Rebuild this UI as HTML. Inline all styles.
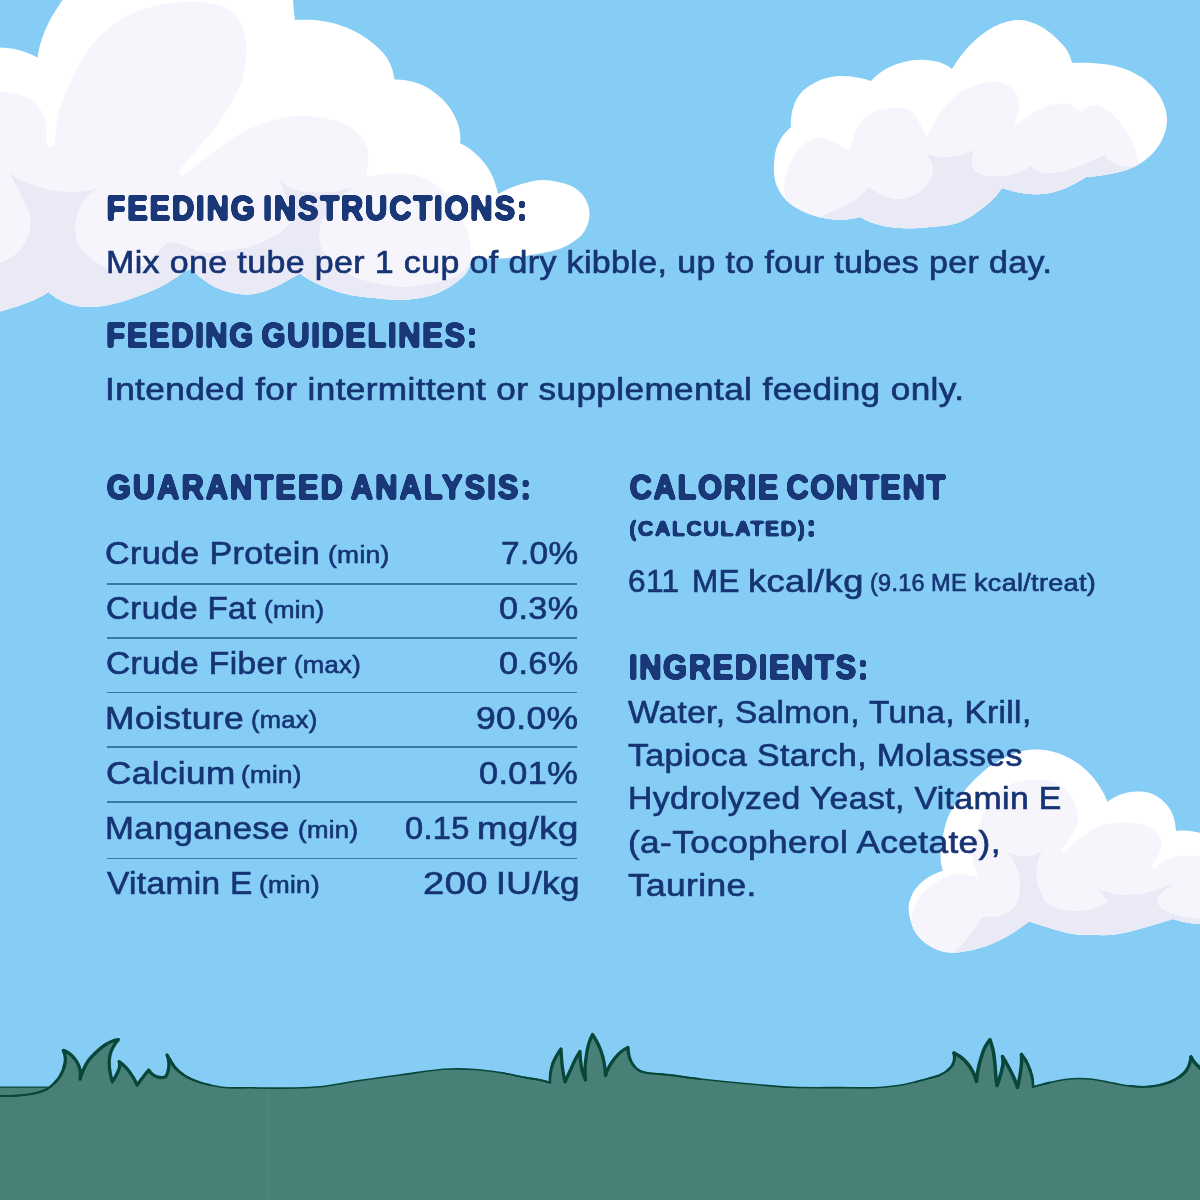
<!DOCTYPE html>
<html lang="en">
<head>
<meta charset="utf-8">
<title>Feeding Instructions &amp; Guaranteed Analysis</title>
<style>
html,body{margin:0;padding:0}
body{width:1200px;height:1200px;overflow:hidden;background:#85CDF4;font-family:"Liberation Sans",Arial,Helvetica,sans-serif}
#page{position:relative;width:1200px;height:1200px;overflow:hidden;background:#85CDF4}
.art{position:absolute;left:0;top:0;width:1200px;height:1200px;display:block}
.t{position:absolute;margin:0;padding:0;white-space:nowrap;line-height:1;transform-origin:0 0;font-weight:400}
.g{margin:0;padding:0}
.hw{width:1200px;height:1200px;pointer-events:none}
.hs{position:absolute;left:0;top:0;overflow:visible}
.ht{font-family:"Liberation Sans",Arial,Helvetica,sans-serif;font-weight:700;fill:#1A3878;stroke:#1A3878;stroke-linejoin:round;stroke-linecap:round;paint-order:stroke fill}
.b,.s{color:#163474;-webkit-text-stroke:0.65px #163474}
.rule{position:absolute;left:107px;width:470px;height:1.5px;background:#3579A8}

</style>
</head>
<body>
<div id="page">
<svg class="art" width="1200" height="1200" viewBox="0 0 1200 1200" aria-hidden="true">
<defs>
<clipPath id="cl1"><path d="M-20.00 46.00 C-13.33 46.41 -6.66 46.91 0.00 47.50 C5.01 47.95 10.08 47.96 15.00 49.00 C20.16 50.09 25.14 51.96 30.00 54.00 C32.54 55.07 35.05 56.24 37.50 57.50 L37.50 57.50 C38.08 53.29 38.92 49.11 40.00 45.00 C41.81 38.12 44.50 31.46 47.50 25.00 C51.60 16.19 57.22 8.16 62.50 0.00 C68.03 -8.54 73.87 -16.88 80.00 -25.00 L80.00 -25.00 L293.00 -25.00 L293.00 -25.00 C292.54 -16.68 292.54 -8.32 293.00 0.00 C293.37 6.69 294.04 13.37 295.00 20.00 L295.00 20.00 C299.32 19.67 303.67 19.57 308.00 19.70 C316.40 19.95 324.86 20.91 333.00 23.00 C341.69 25.24 350.18 28.60 358.00 33.00 C364.04 36.40 369.82 40.38 375.00 45.00 C379.40 48.93 383.86 53.01 387.00 58.00 C389.71 62.30 391.66 67.10 393.00 72.00 C393.67 74.46 394.17 76.97 394.50 79.50 L394.50 79.50 C402.09 79.31 409.83 80.51 417.00 83.00 C425.48 85.94 433.38 90.94 440.00 97.00 C445.07 101.64 449.63 107.01 453.00 113.00 C456.46 119.16 459.24 125.98 460.00 133.00 C460.36 136.31 460.36 139.69 460.00 143.00 L460.00 143.00 C462.41 144.19 464.75 145.53 467.00 147.00 C470.57 149.34 473.90 152.07 477.00 155.00 C481.12 158.90 484.95 163.21 488.00 168.00 C490.97 172.65 493.18 177.79 495.00 183.00 C496.25 186.59 497.26 190.27 498.00 194.00 L498.00 194.00 C501.25 192.18 504.59 190.51 508.00 189.00 C513.50 186.57 519.19 184.52 525.00 183.00 C530.57 181.55 536.25 180.12 542.00 180.00 C547.37 179.89 552.76 180.80 558.00 182.00 C563.86 183.35 570.03 184.62 575.00 188.00 C579.49 191.05 583.50 195.18 586.00 200.00 C588.36 204.56 589.61 209.87 589.50 215.00 C589.37 220.95 587.26 227.02 584.00 232.00 C580.24 237.75 573.92 241.51 568.00 245.00 C557.86 250.97 545.55 252.24 534.00 254.50 C522.80 256.70 511.40 258.01 500.00 258.50 C490.67 258.90 481.31 258.73 472.00 258.00 L472.00 258.00 C471.34 262.54 469.79 267.03 467.50 271.00 C463.79 277.44 457.18 281.87 451.00 286.00 C445.73 289.52 439.97 292.37 434.00 294.50 C428.52 296.45 422.75 297.58 417.00 298.50 C411.38 299.40 405.69 299.89 400.00 300.00 C391.64 300.17 383.32 298.83 375.00 298.00 C366.65 297.17 358.21 296.75 350.00 295.00 C342.16 293.33 334.45 290.95 327.00 288.00 C321.18 285.70 315.42 283.13 310.00 280.00 C306.56 278.01 303.21 275.84 300.00 273.50 L300.00 273.50 C296.68 275.35 293.34 277.18 290.00 279.00 C285.02 281.71 280.18 284.71 275.00 287.00 C269.51 289.43 263.88 291.75 258.00 293.00 C253.73 293.91 249.36 294.54 245.00 294.50 C240.97 294.46 236.95 293.80 233.00 293.00 C227.52 291.89 222.09 290.31 217.00 288.00 C210.85 285.21 205.29 281.19 200.00 277.00 C196.85 274.51 193.84 271.83 191.00 269.00 L191.00 269.00 C189.30 269.56 187.62 270.23 186.00 271.00 C182.41 272.70 179.37 275.39 176.00 277.50 C170.75 280.80 165.52 284.17 160.00 287.00 C153.55 290.31 146.78 292.94 140.00 295.50 C132.46 298.35 124.83 301.08 117.00 303.00 C109.77 304.77 102.43 306.45 95.00 306.80 C88.33 307.11 81.52 306.97 75.00 305.50 C69.08 304.16 63.24 302.06 58.00 299.00 C54.60 297.01 51.40 294.66 48.50 292.00 L48.50 292.00 C45.11 294.19 41.60 296.19 38.00 298.00 C33.79 300.11 29.39 301.80 25.00 303.50 C16.84 306.65 8.46 309.25 0.00 311.50 C-6.60 313.26 -13.28 314.76 -20.00 316.00 L-20.00 316.00 L-20.00 46.00 Z"/></clipPath>
<clipPath id="cl2"><path d="M860.00 217.00 C856.72 217.89 853.37 218.56 850.00 219.00 C843.39 219.87 836.62 219.74 830.00 219.00 C821.08 218.00 812.11 215.85 804.00 212.00 C797.49 208.91 790.95 205.25 786.00 200.00 C781.69 195.42 778.08 189.94 776.00 184.00 C773.79 177.68 773.68 170.69 774.00 164.00 C774.32 157.21 775.23 150.21 778.00 144.00 C780.91 137.49 785.47 131.51 791.00 127.00 L791.00 127.00 C790.57 122.01 790.91 116.89 792.00 112.00 C793.42 105.59 795.92 99.14 800.00 94.00 C804.14 88.78 810.04 84.99 816.00 82.00 C823.37 78.30 831.77 76.45 840.00 76.00 C846.69 75.63 853.44 76.63 860.00 78.00 C863.72 78.78 867.40 79.78 871.00 81.00 L871.00 81.00 C874.77 76.76 879.19 73.02 884.00 70.00 C890.08 66.18 897.02 63.69 904.00 62.00 C911.16 60.27 918.66 59.43 926.00 60.00 C932.13 60.48 938.45 61.36 944.00 64.00 C946.84 65.35 949.54 67.04 952.00 69.00 L952.00 69.00 C954.43 64.85 957.11 60.84 960.00 57.00 C965.81 49.28 972.37 41.93 980.00 36.00 C986.14 31.23 992.72 26.72 1000.00 24.00 C1006.37 21.62 1013.21 19.70 1020.00 20.00 C1026.95 20.31 1033.80 22.84 1040.00 26.00 C1045.94 29.03 1051.16 33.42 1056.00 38.00 C1060.47 42.22 1065.12 46.57 1068.00 52.00 C1069.83 55.45 1071.19 59.18 1072.00 63.00 L1072.00 63.00 C1077.99 62.72 1084.01 62.72 1090.00 63.00 C1096.69 63.32 1103.43 63.71 1110.00 65.00 C1116.83 66.34 1123.66 68.13 1130.00 71.00 C1137.25 74.27 1144.28 78.48 1150.00 84.00 C1154.80 88.63 1159.12 93.99 1162.00 100.00 C1164.97 106.20 1167.00 113.13 1167.00 120.00 C1167.00 126.87 1164.97 133.80 1162.00 140.00 C1159.12 146.01 1154.82 151.40 1150.00 156.00 C1145.85 159.96 1141.04 163.27 1136.00 166.00 C1128.02 170.31 1118.88 172.14 1110.00 174.00 C1102.11 175.65 1094.06 176.66 1086.00 177.00 L1086.00 177.00 C1080.93 180.42 1075.56 183.44 1070.00 186.00 C1063.58 188.95 1056.94 191.67 1050.00 193.00 C1043.44 194.26 1036.66 194.42 1030.00 194.00 C1023.93 193.62 1017.90 192.48 1012.00 191.00 C1008.62 190.15 1005.28 189.15 1002.00 188.00 L1002.00 188.00 C1000.18 190.79 998.17 193.47 996.00 196.00 C991.38 201.37 985.71 205.80 980.00 210.00 C973.74 214.60 967.23 219.13 960.00 222.00 C950.58 225.74 940.09 226.00 930.00 227.00 C920.04 227.99 909.98 228.76 900.00 228.00 C891.91 227.38 883.73 226.47 876.00 224.00 C870.45 222.23 865.06 219.87 860.00 217.00 Z"/></clipPath>
<clipPath id="cl3"><path d="M1029.00 921.50 C1024.80 924.74 1020.46 927.81 1016.00 930.70 C1010.82 934.05 1005.53 937.27 1000.00 940.00 C993.56 943.18 986.89 945.99 980.00 948.00 C975.64 949.27 971.18 950.22 966.70 951.00 C962.17 951.79 957.60 952.78 953.00 952.70 C948.62 952.62 944.19 951.99 940.00 950.70 C935.26 949.23 930.73 946.90 926.70 944.00 C923.06 941.39 919.64 938.32 917.00 934.70 C914.04 930.64 912.10 925.83 910.70 921.00 C909.36 916.38 908.32 911.50 908.70 906.70 C909.03 902.56 910.24 898.46 912.00 894.70 C914.12 890.17 917.36 886.12 921.00 882.70 C924.50 879.41 928.72 876.89 933.00 874.70 C936.11 873.10 939.37 871.76 942.70 870.70 L942.70 870.70 C941.70 867.21 941.03 863.61 940.70 860.00 C940.29 855.58 940.58 851.11 941.00 846.70 C941.52 841.30 942.72 835.97 944.00 830.70 C945.12 826.08 946.19 821.40 948.00 817.00 C950.07 811.95 953.07 807.31 956.00 802.70 C959.25 797.59 962.79 792.63 966.70 788.00 C970.78 783.18 975.27 778.69 980.00 774.50 C984.12 770.85 988.40 767.32 993.00 764.30 C997.35 761.44 1001.98 759.01 1006.70 756.80 C1011.02 754.78 1015.39 752.72 1020.00 751.50 C1024.88 750.21 1029.96 749.58 1035.00 749.50 C1040.02 749.42 1045.08 749.96 1050.00 751.00 C1055.16 752.09 1060.20 753.82 1065.00 756.00 C1070.31 758.41 1075.36 761.47 1080.00 765.00 C1083.57 767.71 1086.93 770.73 1090.00 774.00 C1092.92 777.11 1095.57 780.49 1098.00 784.00 C1100.21 787.20 1102.25 790.53 1104.00 794.00 C1105.31 796.60 1106.48 799.27 1107.50 802.00 L1107.50 802.00 C1109.83 800.10 1112.35 798.42 1115.00 797.00 C1118.16 795.30 1121.53 793.92 1125.00 793.00 C1128.58 792.05 1132.30 791.61 1136.00 791.50 C1140.01 791.38 1144.12 791.46 1148.00 792.50 C1151.53 793.44 1154.93 795.02 1158.00 797.00 C1160.98 798.92 1163.66 801.34 1166.00 804.00 C1168.38 806.71 1170.47 809.73 1172.00 813.00 C1173.47 816.15 1174.32 819.59 1175.00 823.00 C1175.53 825.64 1175.86 828.32 1176.00 831.00 L1176.00 831.00 C1179.55 830.62 1183.14 830.52 1186.70 830.70 C1191.18 830.93 1195.57 832.01 1200.00 832.70 C1206.68 833.74 1213.34 834.84 1220.00 836.00 L1220.00 836.00 L1220.00 926.00 L1220.00 926.00 C1213.34 925.29 1206.67 924.63 1200.00 924.00 C1196.33 923.65 1192.63 923.59 1189.00 923.00 C1185.97 922.51 1182.98 921.77 1180.00 921.00 C1177.65 920.39 1175.31 919.73 1173.00 919.00 L1173.00 919.00 C1170.90 919.68 1168.80 920.35 1166.70 921.00 C1162.16 922.41 1157.57 923.68 1153.00 925.00 C1146.34 926.93 1139.74 929.07 1133.00 930.70 C1126.39 932.30 1119.76 933.99 1113.00 934.70 C1106.37 935.40 1099.67 935.12 1093.00 935.00 C1086.33 934.88 1079.60 934.97 1073.00 934.00 C1066.20 933.00 1059.61 930.88 1053.00 929.00 C1048.64 927.76 1044.33 926.36 1040.00 925.00 C1036.33 923.85 1032.66 922.68 1029.00 921.50 Z"/></clipPath>
</defs>
<path d="M-20.00 46.00 C-13.33 46.41 -6.66 46.91 0.00 47.50 C5.01 47.95 10.08 47.96 15.00 49.00 C20.16 50.09 25.14 51.96 30.00 54.00 C32.54 55.07 35.05 56.24 37.50 57.50 L37.50 57.50 C38.08 53.29 38.92 49.11 40.00 45.00 C41.81 38.12 44.50 31.46 47.50 25.00 C51.60 16.19 57.22 8.16 62.50 0.00 C68.03 -8.54 73.87 -16.88 80.00 -25.00 L80.00 -25.00 L293.00 -25.00 L293.00 -25.00 C292.54 -16.68 292.54 -8.32 293.00 0.00 C293.37 6.69 294.04 13.37 295.00 20.00 L295.00 20.00 C299.32 19.67 303.67 19.57 308.00 19.70 C316.40 19.95 324.86 20.91 333.00 23.00 C341.69 25.24 350.18 28.60 358.00 33.00 C364.04 36.40 369.82 40.38 375.00 45.00 C379.40 48.93 383.86 53.01 387.00 58.00 C389.71 62.30 391.66 67.10 393.00 72.00 C393.67 74.46 394.17 76.97 394.50 79.50 L394.50 79.50 C402.09 79.31 409.83 80.51 417.00 83.00 C425.48 85.94 433.38 90.94 440.00 97.00 C445.07 101.64 449.63 107.01 453.00 113.00 C456.46 119.16 459.24 125.98 460.00 133.00 C460.36 136.31 460.36 139.69 460.00 143.00 L460.00 143.00 C462.41 144.19 464.75 145.53 467.00 147.00 C470.57 149.34 473.90 152.07 477.00 155.00 C481.12 158.90 484.95 163.21 488.00 168.00 C490.97 172.65 493.18 177.79 495.00 183.00 C496.25 186.59 497.26 190.27 498.00 194.00 L498.00 194.00 C501.25 192.18 504.59 190.51 508.00 189.00 C513.50 186.57 519.19 184.52 525.00 183.00 C530.57 181.55 536.25 180.12 542.00 180.00 C547.37 179.89 552.76 180.80 558.00 182.00 C563.86 183.35 570.03 184.62 575.00 188.00 C579.49 191.05 583.50 195.18 586.00 200.00 C588.36 204.56 589.61 209.87 589.50 215.00 C589.37 220.95 587.26 227.02 584.00 232.00 C580.24 237.75 573.92 241.51 568.00 245.00 C557.86 250.97 545.55 252.24 534.00 254.50 C522.80 256.70 511.40 258.01 500.00 258.50 C490.67 258.90 481.31 258.73 472.00 258.00 L472.00 258.00 C471.34 262.54 469.79 267.03 467.50 271.00 C463.79 277.44 457.18 281.87 451.00 286.00 C445.73 289.52 439.97 292.37 434.00 294.50 C428.52 296.45 422.75 297.58 417.00 298.50 C411.38 299.40 405.69 299.89 400.00 300.00 C391.64 300.17 383.32 298.83 375.00 298.00 C366.65 297.17 358.21 296.75 350.00 295.00 C342.16 293.33 334.45 290.95 327.00 288.00 C321.18 285.70 315.42 283.13 310.00 280.00 C306.56 278.01 303.21 275.84 300.00 273.50 L300.00 273.50 C296.68 275.35 293.34 277.18 290.00 279.00 C285.02 281.71 280.18 284.71 275.00 287.00 C269.51 289.43 263.88 291.75 258.00 293.00 C253.73 293.91 249.36 294.54 245.00 294.50 C240.97 294.46 236.95 293.80 233.00 293.00 C227.52 291.89 222.09 290.31 217.00 288.00 C210.85 285.21 205.29 281.19 200.00 277.00 C196.85 274.51 193.84 271.83 191.00 269.00 L191.00 269.00 C189.30 269.56 187.62 270.23 186.00 271.00 C182.41 272.70 179.37 275.39 176.00 277.50 C170.75 280.80 165.52 284.17 160.00 287.00 C153.55 290.31 146.78 292.94 140.00 295.50 C132.46 298.35 124.83 301.08 117.00 303.00 C109.77 304.77 102.43 306.45 95.00 306.80 C88.33 307.11 81.52 306.97 75.00 305.50 C69.08 304.16 63.24 302.06 58.00 299.00 C54.60 297.01 51.40 294.66 48.50 292.00 L48.50 292.00 C45.11 294.19 41.60 296.19 38.00 298.00 C33.79 300.11 29.39 301.80 25.00 303.50 C16.84 306.65 8.46 309.25 0.00 311.50 C-6.60 313.26 -13.28 314.76 -20.00 316.00 L-20.00 316.00 L-20.00 46.00 Z" fill="#FFFFFF"/>
<g clip-path="url(#cl1)">
<path d="M-20.00 90.00 C-13.33 89.85 -6.62 90.18 0.00 91.00 C6.75 91.83 13.58 92.76 20.00 95.00 C24.51 96.57 29.23 98.08 33.00 101.00 C36.74 103.90 39.80 107.80 42.00 112.00 C44.40 116.58 45.28 121.88 46.00 127.00 C46.60 131.29 46.77 135.67 46.50 140.00 L46.50 140.00 C45.82 141.53 46.03 143.64 47.00 145.00 C47.70 145.98 48.80 146.92 50.00 147.00 C51.34 147.09 52.62 146.01 53.50 145.00 C54.43 143.93 55.00 142.42 55.00 141.00 L55.00 141.00 C55.31 132.94 56.31 124.88 58.00 117.00 C60.51 105.25 65.07 93.96 70.00 83.00 C76.01 69.65 82.60 56.22 92.00 45.00 C101.26 33.94 112.36 23.94 125.00 17.00 C135.81 11.06 147.92 7.49 160.00 5.00 C169.84 2.97 179.95 2.02 190.00 2.00 C198.36 1.99 206.94 1.77 215.00 4.00 C221.33 5.75 228.07 7.66 233.00 12.00 C237.72 16.16 240.68 22.15 243.00 28.00 C245.98 35.51 246.45 43.92 246.50 52.00 C246.55 60.41 245.29 68.90 243.00 77.00 C240.73 85.05 236.88 92.60 233.00 100.00 C228.40 108.76 222.81 116.99 217.00 125.00 C211.71 132.29 205.77 139.09 200.00 146.00 C193.79 153.44 187.45 160.77 181.00 168.00 L181.00 168.00 C179.96 168.97 179.35 170.58 179.50 172.00 C179.62 173.11 180.03 174.45 181.00 175.00 C182.20 175.68 184.26 175.16 185.00 174.00 L185.00 174.00 C192.26 168.24 199.60 162.58 207.00 157.00 C215.57 150.54 223.81 143.55 233.00 138.00 C243.72 131.53 255.04 125.73 267.00 122.00 C277.67 118.67 288.82 116.32 300.00 116.00 C311.08 115.68 322.46 116.57 333.00 120.00 C341.93 122.91 351.51 126.21 358.00 133.00 C361.83 137.01 365.28 141.73 367.00 147.00 C368.35 151.15 368.54 155.64 368.50 160.00 C368.46 164.03 367.70 168.03 367.00 172.00 C366.70 173.67 366.37 175.34 366.00 177.00 L366.00 177.00 C371.60 175.67 377.28 174.67 383.00 174.00 C388.64 173.34 394.33 172.76 400.00 173.00 C405.04 173.21 410.12 173.71 415.00 175.00 C422.93 177.09 430.34 181.22 437.00 186.00 C443.90 190.94 450.16 197.03 455.00 204.00 C459.42 210.37 462.38 217.70 465.00 225.00 C467.90 233.06 470.62 241.44 471.00 250.00 C471.22 255.01 470.89 260.07 470.00 265.00 L470.00 265.00 C472.85 286.48 472.85 308.52 470.00 330.00 C448.52 491.91 53.28 475.97 -20.00 330.00 C-56.79 256.72 -56.79 157.28 -20.00 84.00 Z" fill="#F6F5FC"/>
<path d="M-20.00 268.00 C-13.16 267.32 -6.35 265.62 0.00 263.00 C6.08 260.49 12.20 257.49 17.00 253.00 C21.73 248.58 25.75 243.07 28.00 237.00 C30.33 230.72 30.88 223.64 30.00 217.00 C29.06 209.88 25.00 203.52 22.00 197.00 C18.19 188.74 13.84 180.70 9.00 173.00 L9.00 173.00 C16.50 177.88 24.60 181.93 33.00 185.00 C43.87 188.97 55.43 191.65 67.00 192.00 C78.10 192.34 89.40 190.79 100.00 187.50 L100.00 187.50 C93.21 190.57 87.10 195.78 83.00 202.00 C80.04 206.50 78.36 211.79 77.00 217.00 C75.89 221.24 74.85 225.62 75.00 230.00 C75.20 235.90 77.01 241.91 80.00 247.00 C83.10 252.28 88.05 256.38 93.00 260.00 C97.57 263.35 102.63 266.19 108.00 268.00 C115.92 270.67 124.85 271.86 133.00 270.00 C143.92 267.51 151.79 257.62 160.00 250.00 C162.76 247.43 165.43 244.76 168.00 242.00 L168.00 242.00 C173.07 242.56 178.11 243.57 183.00 245.00 C188.88 246.72 194.03 250.60 200.00 252.00 C210.73 254.52 222.14 251.86 233.00 250.00 C244.64 248.01 256.44 245.29 267.00 240.00 C272.62 237.18 278.22 234.09 283.00 230.00 C285.51 227.86 287.86 225.51 290.00 223.00 L290.00 223.00 C289.47 214.58 288.13 206.17 286.00 198.00 C283.76 189.40 280.63 180.98 276.70 173.00 L276.70 173.00 C278.75 178.14 282.47 182.83 287.00 186.00 C290.81 188.66 295.49 189.89 300.00 191.00 C305.52 192.36 311.31 192.43 317.00 192.50 C325.37 192.60 333.86 191.96 342.00 190.00 C347.12 188.77 352.16 187.09 357.00 185.00 L357.00 185.00 C347.92 190.10 339.65 196.99 333.00 205.00 C328.69 210.19 324.37 215.68 322.00 222.00 C320.10 227.08 318.61 232.59 319.00 238.00 C319.49 244.85 323.08 251.36 327.00 257.00 C332.56 264.99 341.35 270.53 350.00 275.00 C357.77 279.02 366.49 280.98 375.00 283.00 C383.21 284.95 391.57 286.68 400.00 287.00 C411.07 287.42 422.20 285.49 433.00 283.00 C441.53 281.04 450.78 279.94 458.00 275.00 C462.67 271.81 466.81 267.67 470.00 263.00 L470.00 263.00 C476.33 284.68 479.72 307.42 480.00 330.00 C482.04 496.65 0.51 495.40 -20.00 330.00 C-22.54 309.49 -22.54 288.51 -20.00 268.00 Z" fill="#EAE9F6"/>
</g>
<path d="M860.00 217.00 C856.72 217.89 853.37 218.56 850.00 219.00 C843.39 219.87 836.62 219.74 830.00 219.00 C821.08 218.00 812.11 215.85 804.00 212.00 C797.49 208.91 790.95 205.25 786.00 200.00 C781.69 195.42 778.08 189.94 776.00 184.00 C773.79 177.68 773.68 170.69 774.00 164.00 C774.32 157.21 775.23 150.21 778.00 144.00 C780.91 137.49 785.47 131.51 791.00 127.00 L791.00 127.00 C790.57 122.01 790.91 116.89 792.00 112.00 C793.42 105.59 795.92 99.14 800.00 94.00 C804.14 88.78 810.04 84.99 816.00 82.00 C823.37 78.30 831.77 76.45 840.00 76.00 C846.69 75.63 853.44 76.63 860.00 78.00 C863.72 78.78 867.40 79.78 871.00 81.00 L871.00 81.00 C874.77 76.76 879.19 73.02 884.00 70.00 C890.08 66.18 897.02 63.69 904.00 62.00 C911.16 60.27 918.66 59.43 926.00 60.00 C932.13 60.48 938.45 61.36 944.00 64.00 C946.84 65.35 949.54 67.04 952.00 69.00 L952.00 69.00 C954.43 64.85 957.11 60.84 960.00 57.00 C965.81 49.28 972.37 41.93 980.00 36.00 C986.14 31.23 992.72 26.72 1000.00 24.00 C1006.37 21.62 1013.21 19.70 1020.00 20.00 C1026.95 20.31 1033.80 22.84 1040.00 26.00 C1045.94 29.03 1051.16 33.42 1056.00 38.00 C1060.47 42.22 1065.12 46.57 1068.00 52.00 C1069.83 55.45 1071.19 59.18 1072.00 63.00 L1072.00 63.00 C1077.99 62.72 1084.01 62.72 1090.00 63.00 C1096.69 63.32 1103.43 63.71 1110.00 65.00 C1116.83 66.34 1123.66 68.13 1130.00 71.00 C1137.25 74.27 1144.28 78.48 1150.00 84.00 C1154.80 88.63 1159.12 93.99 1162.00 100.00 C1164.97 106.20 1167.00 113.13 1167.00 120.00 C1167.00 126.87 1164.97 133.80 1162.00 140.00 C1159.12 146.01 1154.82 151.40 1150.00 156.00 C1145.85 159.96 1141.04 163.27 1136.00 166.00 C1128.02 170.31 1118.88 172.14 1110.00 174.00 C1102.11 175.65 1094.06 176.66 1086.00 177.00 L1086.00 177.00 C1080.93 180.42 1075.56 183.44 1070.00 186.00 C1063.58 188.95 1056.94 191.67 1050.00 193.00 C1043.44 194.26 1036.66 194.42 1030.00 194.00 C1023.93 193.62 1017.90 192.48 1012.00 191.00 C1008.62 190.15 1005.28 189.15 1002.00 188.00 L1002.00 188.00 C1000.18 190.79 998.17 193.47 996.00 196.00 C991.38 201.37 985.71 205.80 980.00 210.00 C973.74 214.60 967.23 219.13 960.00 222.00 C950.58 225.74 940.09 226.00 930.00 227.00 C920.04 227.99 909.98 228.76 900.00 228.00 C891.91 227.38 883.73 226.47 876.00 224.00 C870.45 222.23 865.06 219.87 860.00 217.00 Z" fill="#FFFFFF"/>
<g clip-path="url(#cl2)">
<path d="M780.00 210.00 C782.71 206.62 784.50 202.30 785.00 198.00 C785.39 194.67 784.00 191.35 784.00 188.00 C783.99 179.75 786.61 171.52 790.00 164.00 C792.58 158.27 795.55 152.45 800.00 148.00 C804.45 143.55 809.79 138.98 816.00 138.00 C820.66 137.27 825.52 138.53 830.00 140.00 C835.11 141.68 839.00 146.02 844.00 148.00 C845.96 148.78 847.97 149.45 850.00 150.00 L850.00 150.00 C850.89 145.23 852.23 140.52 854.00 136.00 C856.50 129.61 858.94 122.64 864.00 118.00 C868.40 113.97 874.29 111.72 880.00 110.00 C886.42 108.07 893.39 106.93 900.00 108.00 C904.16 108.67 908.59 109.52 912.00 112.00 C915.89 114.83 917.70 119.78 920.00 124.00 C922.43 128.46 924.45 133.17 926.00 138.00 L926.00 138.00 C928.58 133.29 931.25 128.62 934.00 124.00 C937.22 118.60 940.05 112.90 944.00 108.00 C948.59 102.31 953.92 97.06 960.00 93.00 C966.08 88.94 972.90 85.74 980.00 84.00 C986.49 82.40 993.51 80.90 1000.00 82.50 C1005.14 83.77 1010.60 85.94 1014.00 90.00 C1017.19 93.80 1018.55 99.07 1019.00 104.00 C1019.49 109.40 1017.34 114.74 1016.00 120.00 C1015.40 122.35 1014.73 124.69 1014.00 127.00 L1014.00 127.00 C1017.90 123.86 1021.90 120.86 1026.00 118.00 C1030.55 114.83 1034.97 111.35 1040.00 109.00 C1045.06 106.63 1050.46 104.70 1056.00 104.00 C1059.97 103.50 1064.15 102.92 1068.00 104.00 C1071.74 105.05 1075.12 107.39 1078.00 110.00 C1078.70 110.63 1079.37 111.30 1080.00 112.00 L1080.00 112.00 C1082.35 109.91 1085.09 108.20 1088.00 107.00 C1090.54 105.95 1093.25 104.86 1096.00 105.00 C1098.84 105.15 1101.47 106.69 1104.00 108.00 C1108.63 110.39 1112.32 114.32 1116.00 118.00 C1119.68 121.68 1123.12 125.66 1126.00 130.00 C1129.30 134.96 1131.85 140.44 1134.00 146.00 C1136.25 151.81 1138.02 157.85 1139.00 164.00 C1139.58 167.64 1139.91 171.32 1140.00 175.00 L1140.00 175.00 C1143.85 196.32 1143.85 218.68 1140.00 240.00 C1118.68 358.09 789.97 359.59 780.00 240.00 C779.17 230.03 779.17 219.97 780.00 210.00 Z" fill="#F6F5FC"/>
<path d="M812.00 222.00 C814.60 220.23 817.27 218.56 820.00 217.00 C826.35 213.38 833.51 211.37 840.00 208.00 C846.90 204.41 854.05 201.00 860.00 196.00 C863.25 193.27 866.27 190.25 869.00 187.00 L869.00 187.00 C872.35 189.77 876.07 192.14 880.00 194.00 C886.21 196.94 893.13 199.29 900.00 199.00 C907.06 198.71 914.37 196.26 920.00 192.00 C924.15 188.86 927.77 184.70 930.00 180.00 C931.77 176.28 933.32 172.11 933.00 168.00 C932.55 162.19 928.92 156.13 924.00 153.00 L924.00 153.00 C929.06 155.14 934.52 156.51 940.00 157.00 C946.67 157.60 953.49 156.59 960.00 155.00 C965.53 153.65 971.27 152.17 976.00 149.00 C978.16 147.55 980.19 145.87 982.00 144.00 L982.00 144.00 C977.17 146.57 973.24 151.68 972.00 157.00 C971.32 159.92 970.98 163.18 972.00 166.00 C973.28 169.55 976.65 172.27 980.00 174.00 C983.02 175.56 986.62 175.61 990.00 176.00 C994.64 176.53 999.36 176.52 1004.00 176.00 C1009.46 175.38 1014.91 174.09 1020.00 172.00 C1023.86 170.41 1027.57 168.39 1031.00 166.00 L1031.00 166.00 C1033.53 168.57 1036.66 170.65 1040.00 172.00 C1046.18 174.50 1053.40 172.95 1060.00 172.00 C1066.89 171.01 1073.48 168.43 1080.00 166.00 C1085.45 163.96 1090.75 161.51 1096.00 159.00 C1098.69 157.71 1101.36 156.38 1104.00 155.00 L1104.00 155.00 C1106.27 157.72 1109.00 160.11 1112.00 162.00 C1116.19 164.64 1121.05 166.69 1126.00 167.00 C1130.05 167.26 1134.17 166.33 1138.00 165.00 C1142.37 163.48 1146.52 161.06 1150.00 158.00 L1150.00 158.00 C1156.44 184.56 1156.44 213.44 1150.00 240.00 C1123.44 349.49 817.99 352.51 812.00 240.00 C811.68 234.01 811.68 227.99 812.00 222.00 Z" fill="#EAE9F6"/>
</g>
<path d="M1029.00 921.50 C1024.80 924.74 1020.46 927.81 1016.00 930.70 C1010.82 934.05 1005.53 937.27 1000.00 940.00 C993.56 943.18 986.89 945.99 980.00 948.00 C975.64 949.27 971.18 950.22 966.70 951.00 C962.17 951.79 957.60 952.78 953.00 952.70 C948.62 952.62 944.19 951.99 940.00 950.70 C935.26 949.23 930.73 946.90 926.70 944.00 C923.06 941.39 919.64 938.32 917.00 934.70 C914.04 930.64 912.10 925.83 910.70 921.00 C909.36 916.38 908.32 911.50 908.70 906.70 C909.03 902.56 910.24 898.46 912.00 894.70 C914.12 890.17 917.36 886.12 921.00 882.70 C924.50 879.41 928.72 876.89 933.00 874.70 C936.11 873.10 939.37 871.76 942.70 870.70 L942.70 870.70 C941.70 867.21 941.03 863.61 940.70 860.00 C940.29 855.58 940.58 851.11 941.00 846.70 C941.52 841.30 942.72 835.97 944.00 830.70 C945.12 826.08 946.19 821.40 948.00 817.00 C950.07 811.95 953.07 807.31 956.00 802.70 C959.25 797.59 962.79 792.63 966.70 788.00 C970.78 783.18 975.27 778.69 980.00 774.50 C984.12 770.85 988.40 767.32 993.00 764.30 C997.35 761.44 1001.98 759.01 1006.70 756.80 C1011.02 754.78 1015.39 752.72 1020.00 751.50 C1024.88 750.21 1029.96 749.58 1035.00 749.50 C1040.02 749.42 1045.08 749.96 1050.00 751.00 C1055.16 752.09 1060.20 753.82 1065.00 756.00 C1070.31 758.41 1075.36 761.47 1080.00 765.00 C1083.57 767.71 1086.93 770.73 1090.00 774.00 C1092.92 777.11 1095.57 780.49 1098.00 784.00 C1100.21 787.20 1102.25 790.53 1104.00 794.00 C1105.31 796.60 1106.48 799.27 1107.50 802.00 L1107.50 802.00 C1109.83 800.10 1112.35 798.42 1115.00 797.00 C1118.16 795.30 1121.53 793.92 1125.00 793.00 C1128.58 792.05 1132.30 791.61 1136.00 791.50 C1140.01 791.38 1144.12 791.46 1148.00 792.50 C1151.53 793.44 1154.93 795.02 1158.00 797.00 C1160.98 798.92 1163.66 801.34 1166.00 804.00 C1168.38 806.71 1170.47 809.73 1172.00 813.00 C1173.47 816.15 1174.32 819.59 1175.00 823.00 C1175.53 825.64 1175.86 828.32 1176.00 831.00 L1176.00 831.00 C1179.55 830.62 1183.14 830.52 1186.70 830.70 C1191.18 830.93 1195.57 832.01 1200.00 832.70 C1206.68 833.74 1213.34 834.84 1220.00 836.00 L1220.00 836.00 L1220.00 926.00 L1220.00 926.00 C1213.34 925.29 1206.67 924.63 1200.00 924.00 C1196.33 923.65 1192.63 923.59 1189.00 923.00 C1185.97 922.51 1182.98 921.77 1180.00 921.00 C1177.65 920.39 1175.31 919.73 1173.00 919.00 L1173.00 919.00 C1170.90 919.68 1168.80 920.35 1166.70 921.00 C1162.16 922.41 1157.57 923.68 1153.00 925.00 C1146.34 926.93 1139.74 929.07 1133.00 930.70 C1126.39 932.30 1119.76 933.99 1113.00 934.70 C1106.37 935.40 1099.67 935.12 1093.00 935.00 C1086.33 934.88 1079.60 934.97 1073.00 934.00 C1066.20 933.00 1059.61 930.88 1053.00 929.00 C1048.64 927.76 1044.33 926.36 1040.00 925.00 C1036.33 923.85 1032.66 922.68 1029.00 921.50 Z" fill="#FFFFFF"/>
<g clip-path="url(#cl3)">
<path d="M905.00 945.00 C907.07 934.20 909.75 923.50 913.00 913.00 C914.25 908.97 915.04 904.73 917.00 901.00 C919.39 896.44 922.92 892.49 926.70 889.00 C930.63 885.37 935.23 882.44 940.00 880.00 C944.13 877.89 948.44 875.89 953.00 875.00 C957.48 874.12 962.15 874.28 966.70 874.70 C969.39 874.95 972.17 875.06 974.70 876.00 C976.10 876.52 977.45 877.19 978.70 878.00 L978.70 878.00 C977.76 875.35 976.86 872.68 976.00 870.00 C974.94 866.69 973.54 863.44 973.00 860.00 C972.38 856.05 972.57 851.98 973.00 848.00 C973.48 843.58 974.81 839.28 976.00 835.00 C977.16 830.85 978.60 826.78 980.00 822.70 C981.58 818.10 982.80 813.33 985.00 809.00 C987.18 804.71 989.75 800.54 993.00 797.00 C996.86 792.79 1001.73 789.51 1006.70 786.70 C1010.90 784.33 1015.31 782.11 1020.00 781.00 C1024.23 780.00 1028.66 780.17 1033.00 780.00 C1037.56 779.82 1042.20 779.20 1046.70 780.00 C1051.36 780.83 1056.02 782.43 1060.00 785.00 C1063.96 787.56 1067.25 791.17 1070.00 795.00 C1072.56 798.56 1074.65 802.53 1076.00 806.70 C1077.38 810.96 1078.47 815.54 1078.00 820.00 C1077.52 824.62 1075.15 828.88 1073.00 833.00 C1071.22 836.42 1068.88 839.52 1066.70 842.70 C1065.24 844.83 1063.74 846.93 1062.20 849.00 L1062.20 849.00 C1061.60 849.81 1061.75 851.33 1062.50 852.00 C1063.24 852.67 1064.59 852.42 1065.50 852.00 C1066.47 851.55 1067.28 850.54 1067.50 849.50 L1067.50 849.50 L1069.00 848.00 L1069.00 848.00 C1072.40 844.39 1076.09 841.04 1080.00 838.00 C1084.09 834.82 1088.40 831.88 1093.00 829.50 C1097.37 827.24 1101.93 825.19 1106.70 824.00 C1111.03 822.92 1115.54 822.61 1120.00 822.40 C1124.33 822.20 1128.70 822.16 1133.00 822.70 C1137.66 823.29 1142.42 824.06 1146.70 826.00 C1150.06 827.52 1153.46 829.33 1156.00 832.00 C1158.17 834.28 1160.10 836.99 1161.00 840.00 C1161.76 842.56 1161.97 845.37 1161.50 848.00 C1161.05 850.50 1159.71 852.77 1158.50 855.00 C1157.35 857.11 1155.69 858.91 1154.50 861.00 C1153.58 862.62 1152.74 864.29 1152.00 866.00 L1152.00 866.00 C1151.84 866.94 1152.38 868.11 1153.20 868.60 C1154.06 869.11 1155.33 868.80 1156.20 868.30 C1157.16 867.74 1157.89 866.60 1158.00 865.50 L1158.00 865.50 C1159.51 863.99 1161.20 862.64 1163.00 861.50 C1166.03 859.58 1169.55 858.48 1173.00 857.50 C1177.44 856.24 1182.09 855.74 1186.70 855.50 C1191.13 855.27 1195.57 855.72 1200.00 856.00 C1206.69 856.42 1213.36 857.08 1220.00 858.00 L1220.00 858.00 C1234.69 895.92 1234.69 942.08 1220.00 980.00 C1182.08 1077.91 916.60 1084.36 905.00 980.00 C903.71 968.40 903.71 956.60 905.00 945.00 Z" fill="#F6F5FC"/>
<path d="M950.00 960.00 C951.18 957.14 952.77 954.42 954.70 952.00 C956.26 950.04 958.29 948.52 960.00 946.70 C963.20 943.31 966.13 939.67 969.00 936.00 C971.79 932.43 974.48 928.77 977.00 925.00 C978.38 922.93 979.19 920.40 981.00 918.70 C982.17 917.60 983.54 916.67 985.00 916.00 L985.00 916.00 C988.55 916.94 992.36 917.18 996.00 916.70 C999.74 916.20 1003.40 914.84 1006.70 913.00 C1009.66 911.35 1012.62 909.38 1014.70 906.70 C1017.06 903.66 1018.09 899.73 1019.00 896.00 C1020.06 891.68 1020.30 887.14 1020.00 882.70 C1019.69 878.04 1018.61 873.39 1017.00 869.00 C1015.44 864.76 1013.60 860.46 1010.70 857.00 C1008.77 854.70 1006.49 852.66 1004.00 851.00 L1004.00 851.00 C1007.47 852.79 1011.19 854.15 1015.00 855.00 C1019.24 855.95 1023.69 856.54 1028.00 856.00 C1032.18 855.47 1036.44 854.26 1040.00 852.00 C1043.18 849.98 1045.98 847.18 1048.00 844.00 L1048.00 844.00 C1044.66 846.94 1041.88 850.66 1040.00 854.70 C1038.26 858.44 1037.52 862.61 1037.00 866.70 C1036.44 871.10 1036.35 875.61 1037.00 880.00 C1037.67 884.48 1039.13 888.87 1041.00 893.00 C1042.55 896.42 1044.04 900.06 1046.70 902.70 C1050.18 906.16 1055.30 907.60 1060.00 909.00 C1064.20 910.25 1068.62 910.81 1073.00 911.00 C1077.57 911.19 1082.20 910.83 1086.70 910.00 C1091.25 909.16 1095.73 907.79 1100.00 906.00 C1102.75 904.85 1105.43 903.51 1108.00 902.00 L1108.00 902.00 C1106.77 899.93 1105.43 897.93 1104.00 896.00 C1102.45 893.91 1100.91 891.77 1099.00 890.00 C1097.67 888.77 1096.23 887.67 1094.70 886.70 L1094.70 886.70 C1098.49 888.88 1102.54 890.67 1106.70 892.00 C1111.01 893.38 1115.50 894.26 1120.00 894.70 C1124.31 895.12 1128.68 895.00 1133.00 894.70 C1137.60 894.38 1142.19 893.70 1146.70 892.70 C1151.22 891.70 1155.62 890.21 1160.00 888.70 C1165.09 886.94 1170.10 884.94 1175.00 882.70 L1175.00 882.70 C1172.16 884.70 1169.39 886.81 1166.70 889.00 C1163.95 891.24 1160.64 893.03 1158.70 896.00 C1157.89 897.25 1156.89 898.52 1156.70 900.00 C1156.38 902.47 1158.42 904.78 1160.00 906.70 C1162.03 909.17 1165.15 910.55 1168.00 912.00 C1171.76 913.92 1175.90 915.00 1180.00 916.00 C1184.26 917.04 1188.65 917.45 1193.00 918.00 C1201.95 919.14 1210.98 919.81 1220.00 920.00 L1220.00 920.00 C1224.34 939.52 1224.34 960.48 1220.00 980.00 C1200.48 1067.86 956.65 1069.75 950.00 980.00 C949.51 973.35 949.51 966.65 950.00 960.00 Z" fill="#EAE9F6"/>
</g>
<path d="M-10 1087.1 L50 1087.1 L50 1210 L-10 1210 Z" fill="#488077"/>
<path d="M-10.00 1094.60 C3.19 1096.57 16.86 1096.44 30.00 1094.20 C32.78 1093.73 35.59 1093.30 38.30 1092.50 C41.19 1091.65 44.08 1090.68 46.70 1089.20 C49.80 1087.45 52.53 1085.06 55.00 1082.50 C57.20 1080.23 59.23 1077.74 60.80 1075.00 C62.28 1072.41 63.43 1069.59 64.20 1066.70 C64.93 1063.97 65.58 1061.12 65.40 1058.30 C65.23 1055.58 64.50 1052.85 63.30 1050.40 L63.30 1050.40 C65.39 1051.06 67.40 1052.05 69.20 1053.30 C71.47 1054.87 73.34 1057.00 75.00 1059.20 C76.73 1061.49 78.29 1063.98 79.20 1066.70 C79.91 1068.82 80.29 1071.07 80.40 1073.30 C80.50 1075.27 80.36 1077.26 80.00 1079.20 L80.00 1079.20 C80.87 1076.06 81.98 1072.98 83.30 1070.00 C84.72 1066.81 86.30 1063.66 88.30 1060.80 C90.67 1057.42 93.67 1054.50 96.70 1051.70 C99.31 1049.28 102.00 1046.91 105.00 1045.00 C107.62 1043.34 110.36 1041.77 113.30 1040.80 C114.93 1040.26 116.61 1039.86 118.30 1039.60 L118.30 1039.60 C116.37 1041.76 114.68 1044.16 113.30 1046.70 C111.88 1049.32 110.69 1052.10 110.00 1055.00 C109.36 1057.70 109.20 1060.52 109.20 1063.30 C109.20 1066.11 109.57 1068.92 110.00 1071.70 C110.53 1075.11 111.30 1078.50 112.30 1081.80 L112.30 1081.80 C113.97 1079.39 115.44 1076.84 116.70 1074.20 C117.85 1071.78 119.35 1069.37 119.60 1066.70 C119.75 1065.04 119.62 1063.32 119.20 1061.70 L119.20 1061.70 C121.92 1063.62 124.45 1065.85 126.70 1068.30 C129.25 1071.08 131.38 1074.25 133.30 1077.50 C134.73 1079.91 136.00 1082.42 137.10 1085.00 L137.10 1085.00 C139.10 1082.19 141.17 1079.42 143.30 1076.70 C145.07 1074.43 146.89 1072.20 148.75 1070.00 L148.75 1070.00 C149.85 1071.97 151.44 1073.72 153.30 1075.00 C155.27 1076.35 157.62 1077.30 160.00 1077.50 C161.94 1077.67 163.97 1077.39 165.80 1076.70 L165.80 1076.70 C166.94 1074.60 167.79 1072.33 168.30 1070.00 C168.90 1067.29 169.05 1064.45 168.75 1061.70 C168.50 1059.41 167.94 1057.14 167.10 1055.00 L167.10 1055.00 C168.03 1056.69 168.99 1058.36 170.00 1060.00 C171.57 1062.56 173.05 1065.22 175.00 1067.50 C177.18 1070.05 179.78 1072.24 182.50 1074.20 C185.82 1076.58 189.54 1078.41 193.30 1080.00 C196.03 1081.15 198.86 1082.05 201.70 1082.90 C204.44 1083.71 207.22 1084.38 210.00 1085.00 C213.97 1085.89 217.97 1086.66 222.00 1087.20 C231.25 1088.44 240.67 1087.67 250.00 1087.80 C266.67 1088.03 283.35 1088.51 300.00 1087.80 C308.34 1087.44 316.70 1087.16 325.00 1086.20 C333.39 1085.23 341.65 1083.32 350.00 1082.00 C366.62 1079.36 383.31 1077.17 400.00 1075.00 C416.65 1072.84 433.22 1069.44 450.00 1069.00 C458.33 1068.78 466.69 1068.92 475.00 1069.50 C483.37 1070.08 491.71 1071.18 500.00 1072.50 C508.39 1073.84 516.63 1076.00 525.00 1077.50 C529.99 1078.39 535.05 1078.93 540.00 1080.00 C543.36 1080.73 546.70 1081.56 550.00 1082.50 L550.00 1082.50 C549.87 1079.33 550.04 1076.14 550.50 1073.00 C551.00 1069.60 551.78 1066.21 553.00 1063.00 C554.06 1060.21 555.49 1057.57 557.00 1055.00 C558.22 1052.93 559.56 1050.92 561.00 1049.00 L561.00 1049.00 C561.10 1052.00 561.27 1055.00 561.50 1058.00 C561.76 1061.34 562.06 1064.68 562.50 1068.00 C563.12 1072.70 563.96 1077.38 565.00 1082.00 L565.00 1082.00 C566.67 1078.33 568.33 1074.67 570.00 1071.00 C571.67 1067.33 573.12 1063.56 575.00 1060.00 C576.53 1057.09 578.20 1054.25 580.00 1051.50 L580.00 1051.50 C580.05 1054.34 580.22 1057.18 580.50 1060.00 C580.84 1063.35 581.20 1066.73 582.00 1070.00 C582.84 1073.43 584.02 1076.79 585.50 1080.00 L585.50 1080.00 C585.13 1076.68 584.97 1073.34 585.00 1070.00 C585.04 1065.99 585.47 1061.98 586.00 1058.00 C586.68 1052.95 587.40 1047.84 589.00 1043.00 C589.96 1040.09 591.13 1037.24 592.50 1034.50 L592.50 1034.50 C594.14 1036.91 595.65 1039.42 597.00 1042.00 C598.52 1044.91 599.88 1047.91 601.00 1051.00 C602.30 1054.57 603.26 1058.27 604.00 1062.00 C604.88 1066.44 605.38 1070.97 605.50 1075.50 L605.50 1075.50 C606.41 1072.57 607.58 1069.72 609.00 1067.00 C610.67 1063.80 612.70 1060.78 615.00 1058.00 C617.10 1055.46 619.34 1052.95 622.00 1051.00 C623.87 1049.63 625.89 1048.45 628.00 1047.50 L628.00 1047.50 C628.03 1049.34 628.20 1051.18 628.50 1053.00 C628.84 1055.03 629.27 1057.07 630.00 1059.00 C630.96 1061.51 632.27 1063.95 634.00 1066.00 C635.68 1067.99 637.69 1069.81 640.00 1071.00 C642.44 1072.26 645.30 1072.51 648.00 1073.00 C651.95 1073.72 656.00 1073.63 660.00 1074.00 C673.38 1075.24 686.65 1077.48 700.00 1079.00 C716.64 1080.89 733.31 1082.53 750.00 1084.00 C764.15 1085.24 778.30 1086.68 792.50 1087.30 C808.32 1087.99 824.17 1087.61 840.00 1087.60 C854.17 1087.59 868.39 1088.52 882.50 1087.30 C888.35 1086.79 894.21 1086.18 900.00 1085.20 C905.04 1084.35 910.03 1083.19 915.00 1082.00 C920.03 1080.79 925.03 1079.43 930.00 1078.00 C933.35 1077.04 936.84 1076.46 940.00 1075.00 C942.86 1073.68 945.66 1072.10 948.00 1070.00 C949.94 1068.26 951.88 1066.35 953.00 1064.00 C953.88 1062.14 954.39 1060.06 954.50 1058.00 C954.59 1056.33 954.42 1054.62 954.00 1053.00 L954.00 1053.00 C956.10 1053.98 958.12 1055.15 960.00 1056.50 C962.59 1058.35 964.92 1060.59 967.00 1063.00 C969.36 1065.73 971.38 1068.78 973.00 1072.00 C974.52 1075.01 975.70 1078.22 976.50 1081.50 L976.50 1081.50 C976.79 1077.64 977.29 1073.80 978.00 1070.00 C978.76 1065.95 979.79 1061.94 981.00 1058.00 C982.15 1054.27 983.18 1050.45 985.00 1047.00 C986.40 1044.34 988.08 1041.81 990.00 1039.50 L990.00 1039.50 C991.21 1042.93 992.22 1046.45 993.00 1050.00 C994.09 1054.93 994.48 1059.98 995.00 1065.00 C995.45 1069.32 995.51 1073.68 996.00 1078.00 C996.28 1080.51 996.62 1083.01 997.00 1085.50 L997.00 1085.50 C998.59 1081.43 999.93 1077.24 1001.00 1073.00 C1001.83 1069.70 1002.90 1066.40 1003.00 1063.00 C1003.07 1060.83 1002.90 1058.64 1002.50 1056.50 L1002.50 1056.50 C1004.42 1059.62 1006.25 1062.78 1008.00 1066.00 C1010.13 1069.93 1012.26 1073.88 1014.00 1078.00 C1015.32 1081.11 1016.49 1084.28 1017.50 1087.50 L1017.50 1087.50 C1018.49 1083.37 1019.32 1079.19 1020.00 1075.00 C1020.64 1071.02 1021.29 1067.03 1021.50 1063.00 C1021.65 1060.17 1021.65 1057.33 1021.50 1054.50 L1021.50 1054.50 C1023.18 1056.53 1024.69 1058.72 1026.00 1061.00 C1027.64 1063.85 1028.90 1066.91 1030.00 1070.00 C1031.05 1072.93 1032.01 1075.93 1032.50 1079.00 C1032.92 1081.64 1033.09 1084.33 1033.00 1087.00 L1033.00 1087.00 C1035.32 1086.30 1037.66 1085.63 1040.00 1085.00 C1043.32 1084.10 1046.65 1083.27 1050.00 1082.50 C1054.97 1081.36 1059.94 1080.17 1065.00 1079.50 C1069.97 1078.84 1074.99 1078.48 1080.00 1078.50 C1083.34 1078.51 1086.68 1078.67 1090.00 1079.00 C1093.35 1079.33 1096.68 1079.92 1100.00 1080.50 C1103.35 1081.09 1106.67 1081.83 1110.00 1082.50 C1113.33 1083.17 1116.65 1083.91 1120.00 1084.50 C1123.32 1085.08 1126.65 1085.62 1130.00 1086.00 C1133.32 1086.38 1136.66 1086.72 1140.00 1086.80 C1143.33 1086.88 1146.68 1086.80 1150.00 1086.50 C1153.36 1086.20 1156.71 1085.73 1160.00 1085.00 C1163.40 1084.24 1166.78 1083.33 1170.00 1082.00 C1173.52 1080.55 1176.95 1078.78 1180.00 1076.50 C1182.17 1074.87 1184.37 1073.17 1186.00 1071.00 C1187.56 1068.91 1188.65 1066.47 1189.50 1064.00 C1190.28 1061.74 1190.78 1059.38 1191.00 1057.00 L1191.00 1057.00 C1192.13 1059.12 1193.47 1061.14 1195.00 1063.00 C1196.50 1064.82 1198.27 1066.40 1200.00 1068.00 C1203.13 1070.90 1206.49 1073.58 1210.00 1076.00 L1210 1210 L-10 1210 Z" fill="#488077"/>
<rect x="266.7" y="1088" width="3.4" height="112" fill="#4B847B" opacity="0.7"/>
<g fill="none" stroke="#08463A" stroke-linejoin="round" stroke-linecap="round">
<path d="M-10 1087.1 L48 1087.1" stroke-width="1.2"/>
<path d="M-10.00 1094.60 C3.19 1096.57 16.86 1096.44 30.00 1094.20 C32.78 1093.73 35.59 1093.30 38.30 1092.50 C41.19 1091.65 44.08 1090.68 46.70 1089.20 C49.80 1087.45 52.53 1085.06 55.00 1082.50 C57.20 1080.23 59.23 1077.74 60.80 1075.00 C62.28 1072.41 63.43 1069.59 64.20 1066.70 C64.93 1063.97 65.58 1061.12 65.40 1058.30 C65.23 1055.58 64.50 1052.85 63.30 1050.40 L63.30 1050.40 C65.39 1051.06 67.40 1052.05 69.20 1053.30 C71.47 1054.87 73.34 1057.00 75.00 1059.20 C76.73 1061.49 78.29 1063.98 79.20 1066.70 C79.91 1068.82 80.29 1071.07 80.40 1073.30 C80.50 1075.27 80.36 1077.26 80.00 1079.20 L80.00 1079.20 C80.87 1076.06 81.98 1072.98 83.30 1070.00 C84.72 1066.81 86.30 1063.66 88.30 1060.80 C90.67 1057.42 93.67 1054.50 96.70 1051.70 C99.31 1049.28 102.00 1046.91 105.00 1045.00 C107.62 1043.34 110.36 1041.77 113.30 1040.80 C114.93 1040.26 116.61 1039.86 118.30 1039.60 L118.30 1039.60 C116.37 1041.76 114.68 1044.16 113.30 1046.70 C111.88 1049.32 110.69 1052.10 110.00 1055.00 C109.36 1057.70 109.20 1060.52 109.20 1063.30 C109.20 1066.11 109.57 1068.92 110.00 1071.70 C110.53 1075.11 111.30 1078.50 112.30 1081.80 L112.30 1081.80 C113.97 1079.39 115.44 1076.84 116.70 1074.20 C117.85 1071.78 119.35 1069.37 119.60 1066.70 C119.75 1065.04 119.62 1063.32 119.20 1061.70 L119.20 1061.70 C121.92 1063.62 124.45 1065.85 126.70 1068.30 C129.25 1071.08 131.38 1074.25 133.30 1077.50 C134.73 1079.91 136.00 1082.42 137.10 1085.00 L137.10 1085.00 C139.10 1082.19 141.17 1079.42 143.30 1076.70 C145.07 1074.43 146.89 1072.20 148.75 1070.00 L148.75 1070.00 C149.85 1071.97 151.44 1073.72 153.30 1075.00 C155.27 1076.35 157.62 1077.30 160.00 1077.50 C161.94 1077.67 163.97 1077.39 165.80 1076.70 L165.80 1076.70 C166.94 1074.60 167.79 1072.33 168.30 1070.00 C168.90 1067.29 169.05 1064.45 168.75 1061.70 C168.50 1059.41 167.94 1057.14 167.10 1055.00 L167.10 1055.00 C168.03 1056.69 168.99 1058.36 170.00 1060.00 C171.57 1062.56 173.05 1065.22 175.00 1067.50 C177.18 1070.05 179.78 1072.24 182.50 1074.20 C185.82 1076.58 189.54 1078.41 193.30 1080.00 C196.03 1081.15 198.86 1082.05 201.70 1082.90 C204.44 1083.71 207.22 1084.38 210.00 1085.00 C213.97 1085.89 217.97 1086.66 222.00 1087.20 C231.25 1088.44 240.67 1087.67 250.00 1087.80 C266.67 1088.03 283.35 1088.51 300.00 1087.80 C308.34 1087.44 316.70 1087.16 325.00 1086.20 C333.39 1085.23 341.65 1083.32 350.00 1082.00 C366.62 1079.36 383.31 1077.17 400.00 1075.00 C416.65 1072.84 433.22 1069.44 450.00 1069.00 C458.33 1068.78 466.69 1068.92 475.00 1069.50 C483.37 1070.08 491.71 1071.18 500.00 1072.50 C508.39 1073.84 516.63 1076.00 525.00 1077.50 C529.99 1078.39 535.05 1078.93 540.00 1080.00 C543.36 1080.73 546.70 1081.56 550.00 1082.50 L550.00 1082.50 C549.87 1079.33 550.04 1076.14 550.50 1073.00 C551.00 1069.60 551.78 1066.21 553.00 1063.00 C554.06 1060.21 555.49 1057.57 557.00 1055.00 C558.22 1052.93 559.56 1050.92 561.00 1049.00 L561.00 1049.00 C561.10 1052.00 561.27 1055.00 561.50 1058.00 C561.76 1061.34 562.06 1064.68 562.50 1068.00 C563.12 1072.70 563.96 1077.38 565.00 1082.00 L565.00 1082.00 C566.67 1078.33 568.33 1074.67 570.00 1071.00 C571.67 1067.33 573.12 1063.56 575.00 1060.00 C576.53 1057.09 578.20 1054.25 580.00 1051.50 L580.00 1051.50 C580.05 1054.34 580.22 1057.18 580.50 1060.00 C580.84 1063.35 581.20 1066.73 582.00 1070.00 C582.84 1073.43 584.02 1076.79 585.50 1080.00 L585.50 1080.00 C585.13 1076.68 584.97 1073.34 585.00 1070.00 C585.04 1065.99 585.47 1061.98 586.00 1058.00 C586.68 1052.95 587.40 1047.84 589.00 1043.00 C589.96 1040.09 591.13 1037.24 592.50 1034.50 L592.50 1034.50 C594.14 1036.91 595.65 1039.42 597.00 1042.00 C598.52 1044.91 599.88 1047.91 601.00 1051.00 C602.30 1054.57 603.26 1058.27 604.00 1062.00 C604.88 1066.44 605.38 1070.97 605.50 1075.50 L605.50 1075.50 C606.41 1072.57 607.58 1069.72 609.00 1067.00 C610.67 1063.80 612.70 1060.78 615.00 1058.00 C617.10 1055.46 619.34 1052.95 622.00 1051.00 C623.87 1049.63 625.89 1048.45 628.00 1047.50 L628.00 1047.50 C628.03 1049.34 628.20 1051.18 628.50 1053.00 C628.84 1055.03 629.27 1057.07 630.00 1059.00 C630.96 1061.51 632.27 1063.95 634.00 1066.00 C635.68 1067.99 637.69 1069.81 640.00 1071.00 C642.44 1072.26 645.30 1072.51 648.00 1073.00 C651.95 1073.72 656.00 1073.63 660.00 1074.00 C673.38 1075.24 686.65 1077.48 700.00 1079.00 C716.64 1080.89 733.31 1082.53 750.00 1084.00 C764.15 1085.24 778.30 1086.68 792.50 1087.30 C808.32 1087.99 824.17 1087.61 840.00 1087.60 C854.17 1087.59 868.39 1088.52 882.50 1087.30 C888.35 1086.79 894.21 1086.18 900.00 1085.20 C905.04 1084.35 910.03 1083.19 915.00 1082.00 C920.03 1080.79 925.03 1079.43 930.00 1078.00 C933.35 1077.04 936.84 1076.46 940.00 1075.00 C942.86 1073.68 945.66 1072.10 948.00 1070.00 C949.94 1068.26 951.88 1066.35 953.00 1064.00 C953.88 1062.14 954.39 1060.06 954.50 1058.00 C954.59 1056.33 954.42 1054.62 954.00 1053.00 L954.00 1053.00 C956.10 1053.98 958.12 1055.15 960.00 1056.50 C962.59 1058.35 964.92 1060.59 967.00 1063.00 C969.36 1065.73 971.38 1068.78 973.00 1072.00 C974.52 1075.01 975.70 1078.22 976.50 1081.50 L976.50 1081.50 C976.79 1077.64 977.29 1073.80 978.00 1070.00 C978.76 1065.95 979.79 1061.94 981.00 1058.00 C982.15 1054.27 983.18 1050.45 985.00 1047.00 C986.40 1044.34 988.08 1041.81 990.00 1039.50 L990.00 1039.50 C991.21 1042.93 992.22 1046.45 993.00 1050.00 C994.09 1054.93 994.48 1059.98 995.00 1065.00 C995.45 1069.32 995.51 1073.68 996.00 1078.00 C996.28 1080.51 996.62 1083.01 997.00 1085.50 L997.00 1085.50 C998.59 1081.43 999.93 1077.24 1001.00 1073.00 C1001.83 1069.70 1002.90 1066.40 1003.00 1063.00 C1003.07 1060.83 1002.90 1058.64 1002.50 1056.50 L1002.50 1056.50 C1004.42 1059.62 1006.25 1062.78 1008.00 1066.00 C1010.13 1069.93 1012.26 1073.88 1014.00 1078.00 C1015.32 1081.11 1016.49 1084.28 1017.50 1087.50 L1017.50 1087.50 C1018.49 1083.37 1019.32 1079.19 1020.00 1075.00 C1020.64 1071.02 1021.29 1067.03 1021.50 1063.00 C1021.65 1060.17 1021.65 1057.33 1021.50 1054.50 L1021.50 1054.50 C1023.18 1056.53 1024.69 1058.72 1026.00 1061.00 C1027.64 1063.85 1028.90 1066.91 1030.00 1070.00 C1031.05 1072.93 1032.01 1075.93 1032.50 1079.00 C1032.92 1081.64 1033.09 1084.33 1033.00 1087.00 L1033.00 1087.00 C1035.32 1086.30 1037.66 1085.63 1040.00 1085.00 C1043.32 1084.10 1046.65 1083.27 1050.00 1082.50 C1054.97 1081.36 1059.94 1080.17 1065.00 1079.50 C1069.97 1078.84 1074.99 1078.48 1080.00 1078.50 C1083.34 1078.51 1086.68 1078.67 1090.00 1079.00 C1093.35 1079.33 1096.68 1079.92 1100.00 1080.50 C1103.35 1081.09 1106.67 1081.83 1110.00 1082.50 C1113.33 1083.17 1116.65 1083.91 1120.00 1084.50 C1123.32 1085.08 1126.65 1085.62 1130.00 1086.00 C1133.32 1086.38 1136.66 1086.72 1140.00 1086.80 C1143.33 1086.88 1146.68 1086.80 1150.00 1086.50 C1153.36 1086.20 1156.71 1085.73 1160.00 1085.00 C1163.40 1084.24 1166.78 1083.33 1170.00 1082.00 C1173.52 1080.55 1176.95 1078.78 1180.00 1076.50 C1182.17 1074.87 1184.37 1073.17 1186.00 1071.00 C1187.56 1068.91 1188.65 1066.47 1189.50 1064.00 C1190.28 1061.74 1190.78 1059.38 1191.00 1057.00 L1191.00 1057.00 C1192.13 1059.12 1193.47 1061.14 1195.00 1063.00 C1196.50 1064.82 1198.27 1066.40 1200.00 1068.00 C1203.13 1070.90 1206.49 1073.58 1210.00 1076.00" stroke-width="1.6"/>
<path d="M500.00 1072.50 C508.39 1073.84 516.63 1076.00 525.00 1077.50" stroke-width="1.7"/>
<path d="M201.70 1082.90 C204.44 1083.71 207.22 1084.38 210.00 1085.00 M660.00 1074.00 C673.38 1075.24 686.65 1077.48 700.00 1079.00 M915.00 1082.00 C920.03 1080.79 925.03 1079.43 930.00 1078.00 M1033.00 1087.00 C1035.32 1086.30 1037.66 1085.63 1040.00 1085.00 C1043.32 1084.10 1046.65 1083.27 1050.00 1082.50 M1130.00 1086.00 C1133.32 1086.38 1136.66 1086.72 1140.00 1086.80" stroke-width="1.8"/>
<path d="M525.00 1077.50 C529.99 1078.39 535.05 1078.93 540.00 1080.00 M1140.00 1086.80 C1143.33 1086.88 1146.68 1086.80 1150.00 1086.50" stroke-width="1.9"/>
<path d="M-10.00 1094.60 C3.19 1096.57 16.86 1096.44 30.00 1094.20 C32.78 1093.73 35.59 1093.30 38.30 1092.50 M193.30 1080.00 C196.03 1081.15 198.86 1082.05 201.70 1082.90 M540.00 1080.00 C543.36 1080.73 546.70 1081.56 550.00 1082.50 M648.00 1073.00 C651.95 1073.72 656.00 1073.63 660.00 1074.00 M930.00 1078.00 C933.35 1077.04 936.84 1076.46 940.00 1075.00" stroke-width="2.0"/>
<path d="M1150.00 1086.50 C1153.36 1086.20 1156.71 1085.73 1160.00 1085.00" stroke-width="2.1"/>
<path d="M38.30 1092.50 C41.19 1091.65 44.08 1090.68 46.70 1089.20 M640.00 1071.00 C642.44 1072.26 645.30 1072.51 648.00 1073.00 M940.00 1075.00 C942.86 1073.68 945.66 1072.10 948.00 1070.00" stroke-width="2.2"/>
<path d="M182.50 1074.20 C185.82 1076.58 189.54 1078.41 193.30 1080.00" stroke-width="2.4"/>
<path d="M46.70 1089.20 C49.80 1087.45 52.53 1085.06 55.00 1082.50 M634.00 1066.00 C635.68 1067.99 637.69 1069.81 640.00 1071.00 M1160.00 1085.00 C1163.40 1084.24 1166.78 1083.33 1170.00 1082.00" stroke-width="2.5"/>
<path d="M550.00 1082.50 C549.87 1079.33 550.04 1076.14 550.50 1073.00 M948.00 1070.00 C949.94 1068.26 951.88 1066.35 953.00 1064.00 M1032.50 1079.00 C1032.92 1081.64 1033.09 1084.33 1033.00 1087.00" stroke-width="2.6"/>
<path d="M55.00 1082.50 C57.20 1080.23 59.23 1077.74 60.80 1075.00 M175.00 1067.50 C177.18 1070.05 179.78 1072.24 182.50 1074.20 M630.00 1059.00 C630.96 1061.51 632.27 1063.95 634.00 1066.00 M1170.00 1082.00 C1173.52 1080.55 1176.95 1078.78 1180.00 1076.50" stroke-width="2.8"/>
<path d="M550.50 1073.00 C551.00 1069.60 551.78 1066.21 553.00 1063.00 M953.00 1064.00 C953.88 1062.14 954.39 1060.06 954.50 1058.00 M1030.00 1070.00 C1031.05 1072.93 1032.01 1075.93 1032.50 1079.00" stroke-width="3.0"/>
<path d="M60.80 1075.00 C62.28 1072.41 63.43 1069.59 64.20 1066.70 M170.00 1060.00 C171.57 1062.56 173.05 1065.22 175.00 1067.50 M628.50 1053.00 C628.84 1055.03 629.27 1057.07 630.00 1059.00 M1180.00 1076.50 C1182.17 1074.87 1184.37 1073.17 1186.00 1071.00" stroke-width="3.1"/>
<path d="M1026.00 1061.00 C1027.64 1063.85 1028.90 1066.91 1030.00 1070.00" stroke-width="3.2"/>
<path d="M64.20 1066.70 C64.93 1063.97 65.58 1061.12 65.40 1058.30 C65.23 1055.58 64.50 1052.85 63.30 1050.40 C65.39 1051.06 67.40 1052.05 69.20 1053.30 C71.47 1054.87 73.34 1057.00 75.00 1059.20 C76.73 1061.49 78.29 1063.98 79.20 1066.70 C79.91 1068.82 80.29 1071.07 80.40 1073.30 C80.50 1075.27 80.36 1077.26 80.00 1079.20 C80.87 1076.06 81.98 1072.98 83.30 1070.00 C84.72 1066.81 86.30 1063.66 88.30 1060.80 C90.67 1057.42 93.67 1054.50 96.70 1051.70 C99.31 1049.28 102.00 1046.91 105.00 1045.00 C107.62 1043.34 110.36 1041.77 113.30 1040.80 C114.93 1040.26 116.61 1039.86 118.30 1039.60 C116.37 1041.76 114.68 1044.16 113.30 1046.70 C111.88 1049.32 110.69 1052.10 110.00 1055.00 C109.36 1057.70 109.20 1060.52 109.20 1063.30 C109.20 1066.11 109.57 1068.92 110.00 1071.70 C110.53 1075.11 111.30 1078.50 112.30 1081.80 C113.97 1079.39 115.44 1076.84 116.70 1074.20 C117.85 1071.78 119.35 1069.37 119.60 1066.70 C119.75 1065.04 119.62 1063.32 119.20 1061.70 C121.92 1063.62 124.45 1065.85 126.70 1068.30 C129.25 1071.08 131.38 1074.25 133.30 1077.50 C134.73 1079.91 136.00 1082.42 137.10 1085.00 C139.10 1082.19 141.17 1079.42 143.30 1076.70 C145.07 1074.43 146.89 1072.20 148.75 1070.00 C149.85 1071.97 151.44 1073.72 153.30 1075.00 C155.27 1076.35 157.62 1077.30 160.00 1077.50 C161.94 1077.67 163.97 1077.39 165.80 1076.70 C166.94 1074.60 167.79 1072.33 168.30 1070.00 C168.90 1067.29 169.05 1064.45 168.75 1061.70 C168.50 1059.41 167.94 1057.14 167.10 1055.00 C168.03 1056.69 168.99 1058.36 170.00 1060.00 M553.00 1063.00 C554.06 1060.21 555.49 1057.57 557.00 1055.00 C558.22 1052.93 559.56 1050.92 561.00 1049.00 C561.10 1052.00 561.27 1055.00 561.50 1058.00 C561.76 1061.34 562.06 1064.68 562.50 1068.00 C563.12 1072.70 563.96 1077.38 565.00 1082.00 C566.67 1078.33 568.33 1074.67 570.00 1071.00 C571.67 1067.33 573.12 1063.56 575.00 1060.00 C576.53 1057.09 578.20 1054.25 580.00 1051.50 C580.05 1054.34 580.22 1057.18 580.50 1060.00 C580.84 1063.35 581.20 1066.73 582.00 1070.00 C582.84 1073.43 584.02 1076.79 585.50 1080.00 C585.13 1076.68 584.97 1073.34 585.00 1070.00 C585.04 1065.99 585.47 1061.98 586.00 1058.00 C586.68 1052.95 587.40 1047.84 589.00 1043.00 C589.96 1040.09 591.13 1037.24 592.50 1034.50 C594.14 1036.91 595.65 1039.42 597.00 1042.00 C598.52 1044.91 599.88 1047.91 601.00 1051.00 C602.30 1054.57 603.26 1058.27 604.00 1062.00 C604.88 1066.44 605.38 1070.97 605.50 1075.50 C606.41 1072.57 607.58 1069.72 609.00 1067.00 C610.67 1063.80 612.70 1060.78 615.00 1058.00 C617.10 1055.46 619.34 1052.95 622.00 1051.00 C623.87 1049.63 625.89 1048.45 628.00 1047.50 C628.03 1049.34 628.20 1051.18 628.50 1053.00 M954.50 1058.00 C954.59 1056.33 954.42 1054.62 954.00 1053.00 M1021.50 1054.50 C1023.18 1056.53 1024.69 1058.72 1026.00 1061.00 M1186.00 1071.00 C1187.56 1068.91 1188.65 1066.47 1189.50 1064.00 C1190.28 1061.74 1190.78 1059.38 1191.00 1057.00" stroke-width="3.3"/>
<path d="M954.00 1053.00 C956.10 1053.98 958.12 1055.15 960.00 1056.50 C962.59 1058.35 964.92 1060.59 967.00 1063.00 C969.36 1065.73 971.38 1068.78 973.00 1072.00 C974.52 1075.01 975.70 1078.22 976.50 1081.50 C976.79 1077.64 977.29 1073.80 978.00 1070.00 C978.76 1065.95 979.79 1061.94 981.00 1058.00 C982.15 1054.27 983.18 1050.45 985.00 1047.00 C986.40 1044.34 988.08 1041.81 990.00 1039.50 C991.21 1042.93 992.22 1046.45 993.00 1050.00 C994.09 1054.93 994.48 1059.98 995.00 1065.00 C995.45 1069.32 995.51 1073.68 996.00 1078.00 C996.28 1080.51 996.62 1083.01 997.00 1085.50 C998.59 1081.43 999.93 1077.24 1001.00 1073.00 C1001.83 1069.70 1002.90 1066.40 1003.00 1063.00 C1003.07 1060.83 1002.90 1058.64 1002.50 1056.50 C1004.42 1059.62 1006.25 1062.78 1008.00 1066.00 C1010.13 1069.93 1012.26 1073.88 1014.00 1078.00 C1015.32 1081.11 1016.49 1084.28 1017.50 1087.50 C1018.49 1083.37 1019.32 1079.19 1020.00 1075.00 C1020.64 1071.02 1021.29 1067.03 1021.50 1063.00 C1021.65 1060.17 1021.65 1057.33 1021.50 1054.50 M1191.00 1057.00 C1192.13 1059.12 1193.47 1061.14 1195.00 1063.00 C1196.50 1064.82 1198.27 1066.40 1200.00 1068.00 C1203.13 1070.90 1206.49 1073.58 1210.00 1076.00" stroke-width="3.5"/>
</g>
</svg>
<svg width="0" height="0" style="position:absolute" aria-hidden="true"><defs><filter id="goo" x="-5%" y="-30%" width="110%" height="160%" color-interpolation-filters="sRGB"><feGaussianBlur in="SourceGraphic" stdDeviation="0.90" result="b"/><feComponentTransfer in="b"><feFuncA type="linear" slope="5.00" intercept="-2.00"/></feComponentTransfer></filter></defs></svg>
<main>
<h2 class="t hw" id="t0" style="left:0;top:0"><svg class="hs" width="1200" height="1200" viewBox="0 0 1200 1200"><text class="ht" filter="url(#goo)" vector-effect="non-scaling-stroke" x="0" y="0" transform="translate(106.45 220.40) scale(0.9000 1)" font-size="34.30" stroke-width="2.00" letter-spacing="2.042" word-spacing="-4">FEEDING INSTRUCTIONS:</text></svg></h2>
<p class="t b" id="t1" style="left:105.84px;top:245.91px;font-size:32.00px;letter-spacing:0.350px;transform:scaleX(1.0616)">Mix one tube per 1 cup of dry kibble, up to four tubes per day.</p>
<h2 class="t hw" id="t2" style="left:0;top:0"><svg class="hs" width="1200" height="1200" viewBox="0 0 1200 1200"><text class="ht" filter="url(#goo)" vector-effect="non-scaling-stroke" x="0" y="0" transform="translate(106.22 347.20) scale(0.9000 1)" font-size="34.30" stroke-width="2.00" letter-spacing="1.832" word-spacing="-4">FEEDING GUIDELINES:</text></svg></h2>
<p class="t b" id="t3" style="left:104.76px;top:372.91px;font-size:32.00px;letter-spacing:0.350px;transform:scaleX(1.0992)">Intended for intermittent or supplemental feeding only.</p>
<h2 class="t hw" id="t4" style="left:0;top:0"><svg class="hs" width="1200" height="1200" viewBox="0 0 1200 1200"><text class="ht" filter="url(#goo)" vector-effect="non-scaling-stroke" x="0" y="0" transform="translate(106.69 498.70) scale(0.9000 1)" font-size="34.30" stroke-width="2.00" letter-spacing="2.274" word-spacing="-4">GUARANTEED ANALYSIS:</text></svg></h2>
<h2 class="t hw" id="t5" style="left:0;top:0"><svg class="hs" width="1200" height="1200" viewBox="0 0 1200 1200"><text class="ht" filter="url(#goo)" vector-effect="non-scaling-stroke" x="0" y="0" transform="translate(629.69 498.70) scale(0.9000 1)" font-size="34.30" stroke-width="2.00" letter-spacing="1.792" word-spacing="-4">CALORIE CONTENT</text></svg></h2>
<h3 class="t hw" id="t6" style="left:0;top:0"><svg class="hs" width="1200" height="1200" viewBox="0 0 1200 1200"><text class="ht" filter="url(#goo)" vector-effect="non-scaling-stroke" x="0" y="0" transform="translate(629.35 535.95) scale(1.0000 1)" font-size="22.00" stroke-width="1.20" letter-spacing="1.113" word-spacing="-4">(CALCULATED)</text></svg></h3>
<h3 class="t hw" id="t7" style="left:0;top:0"><svg class="hs" width="1200" height="1200" viewBox="0 0 1200 1200"><text class="ht" filter="url(#goo)" vector-effect="non-scaling-stroke" x="0" y="0" transform="translate(806.63 536.00) scale(0.9000 1)" font-size="30.00" stroke-width="2.00" letter-spacing="3.000" word-spacing="-4">:</text></svg></h3>
<p class="g"><span class="t b" id="t8" style="left:628.45px;top:564.91px;font-size:32.00px;letter-spacing:0.350px;transform:scaleX(0.9871)">611</span> <span class="t b" id="t9" style="left:691.61px;top:564.91px;font-size:32.00px;letter-spacing:0.350px;transform:scaleX(0.9815)">ME</span> <span class="t b" id="t10" style="left:747.59px;top:564.91px;font-size:32.00px;letter-spacing:0.350px;transform:scaleX(1.1340)">kcal/kg</span></p>
<p class="g"><span class="t s" id="t11" style="left:869.92px;top:571.18px;font-size:24.60px;letter-spacing:0.300px;transform:scaleX(0.9537)">(9.16</span> <span class="t s" id="t12" style="left:931.39px;top:571.18px;font-size:24.60px;letter-spacing:0.300px;transform:scaleX(0.9598)">ME</span> <span class="t s" id="t13" style="left:973.90px;top:571.18px;font-size:24.60px;letter-spacing:0.300px;transform:scaleX(1.0967)">kcal/treat)</span></p>
<h2 class="t hw" id="t14" style="left:0;top:0"><svg class="hs" width="1200" height="1200" viewBox="0 0 1200 1200"><text class="ht" filter="url(#goo)" vector-effect="non-scaling-stroke" x="0" y="0" transform="translate(629.00 679.40) scale(0.9000 1)" font-size="34.30" stroke-width="2.00" letter-spacing="1.788" word-spacing="-4">INGREDIENTS:</text></svg></h2>
<p class="t b" id="t15" style="left:627.87px;top:695.91px;font-size:32.00px;letter-spacing:0.350px;transform:scaleX(1.0425)">Water, Salmon, Tuna, Krill,</p>
<p class="t b" id="t16" style="left:628.04px;top:738.91px;font-size:32.00px;letter-spacing:0.350px;transform:scaleX(1.0583)">Tapioca Starch, Molasses</p>
<p class="t b" id="t17" style="left:627.93px;top:781.91px;font-size:32.00px;letter-spacing:0.350px;transform:scaleX(1.0556)">Hydrolyzed Yeast, Vitamin E</p>
<p class="t b" id="t18" style="left:628.15px;top:825.91px;font-size:32.00px;letter-spacing:0.350px;transform:scaleX(1.1002)">(a-Tocopherol Acetate),</p>
<p class="t b" id="t19" style="left:627.93px;top:868.91px;font-size:32.00px;letter-spacing:0.350px;transform:scaleX(1.1033)">Taurine.</p>
<p class="t b" id="t20" style="left:105.42px;top:536.91px;font-size:32.00px;letter-spacing:0.350px;transform:scaleX(1.0646)">Crude Protein</p>
<p class="t s" id="t21" style="left:327.96px;top:543.18px;font-size:24.60px;letter-spacing:0.300px;transform:scaleX(1.0730)">(min)</p>
<p class="t b" id="t22" style="left:500.82px;top:536.91px;font-size:32.00px;letter-spacing:0.350px;transform:scaleX(1.0432)">7.0%</p>
<p class="t b" id="t23" style="left:105.65px;top:591.91px;font-size:32.00px;letter-spacing:0.350px;transform:scaleX(1.0343)">Crude Fat</p>
<p class="t s" id="t24" style="left:263.70px;top:598.18px;font-size:24.60px;letter-spacing:0.300px;transform:scaleX(1.0489)">(min)</p>
<p class="t b" id="t25" style="left:499.39px;top:591.91px;font-size:32.00px;letter-spacing:0.350px;transform:scaleX(1.0711)">0.3%</p>
<p class="t b" id="t26" style="left:105.56px;top:646.91px;font-size:32.00px;letter-spacing:0.350px;transform:scaleX(1.0474)">Crude Fiber</p>
<p class="t s" id="t27" style="left:294.21px;top:653.18px;font-size:24.60px;letter-spacing:0.300px;transform:scaleX(1.0413)">(max)</p>
<p class="t b" id="t28" style="left:499.39px;top:646.91px;font-size:32.00px;letter-spacing:0.350px;transform:scaleX(1.0711)">0.6%</p>
<p class="t b" id="t29" style="left:105.11px;top:701.91px;font-size:32.00px;letter-spacing:0.350px;transform:scaleX(1.1081)">Moisture</p>
<p class="t s" id="t30" style="left:251.19px;top:708.18px;font-size:24.60px;letter-spacing:0.300px;transform:scaleX(1.0350)">(max)</p>
<p class="t b" id="t31" style="left:475.74px;top:701.91px;font-size:32.00px;letter-spacing:0.350px;transform:scaleX(1.1086)">90.0%</p>
<p class="t b" id="t32" style="left:106.14px;top:756.91px;font-size:32.00px;letter-spacing:0.350px;transform:scaleX(1.0978)">Calcium</p>
<p class="t s" id="t33" style="left:241.25px;top:763.18px;font-size:24.60px;letter-spacing:0.300px;transform:scaleX(1.0554)">(min)</p>
<p class="t b" id="t34" style="left:478.90px;top:756.91px;font-size:32.00px;letter-spacing:0.350px;transform:scaleX(1.0711)">0.01%</p>
<p class="t b" id="t35" style="left:105.49px;top:811.91px;font-size:32.00px;letter-spacing:0.350px;transform:scaleX(1.0840)">Manganese</p>
<p class="t s" id="t36" style="left:297.95px;top:818.18px;font-size:24.60px;letter-spacing:0.300px;transform:scaleX(1.0489)">(min)</p>
<p class="g"><span class="t b" id="t37" style="left:404.51px;top:811.91px;font-size:32.00px;letter-spacing:0.350px;transform:scaleX(1.0173)">0.15</span> <span class="t b" id="t38" style="left:477.49px;top:811.91px;font-size:32.00px;letter-spacing:0.350px;transform:scaleX(1.1439)">mg/kg</span></p>
<p class="t b" id="t39" style="left:107.05px;top:866.91px;font-size:32.00px;letter-spacing:0.350px;transform:scaleX(1.0447)">Vitamin E</p>
<p class="t s" id="t40" style="left:259.24px;top:873.18px;font-size:24.60px;letter-spacing:0.300px;transform:scaleX(1.0583)">(min)</p>
<p class="g"><span class="t b" id="t41" style="left:423.27px;top:866.91px;font-size:32.00px;letter-spacing:0.350px;transform:scaleX(1.1929)">200</span> <span class="t b" id="t42" style="left:495.88px;top:866.91px;font-size:32.00px;letter-spacing:0.350px;transform:scaleX(1.0975)">IU/kg</span></p>
<div class="rule" style="top:583.00px"></div>
<div class="rule" style="top:637.25px"></div>
<div class="rule" style="top:691.50px"></div>
<div class="rule" style="top:746.00px"></div>
<div class="rule" style="top:801.00px"></div>
<div class="rule" style="top:857.50px"></div>
</main>
</div>
</body>
</html>
